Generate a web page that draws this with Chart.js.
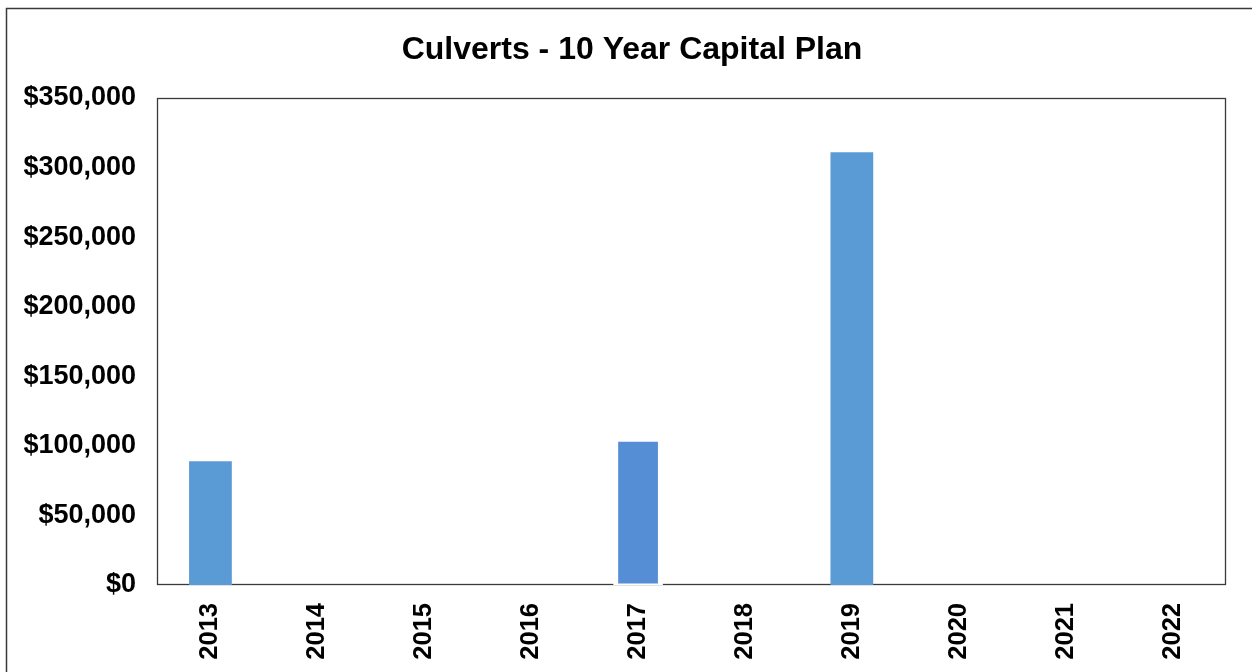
<!DOCTYPE html>
<html>
<head>
<meta charset="utf-8">
<title>Culverts - 10 Year Capital Plan</title>
<script src="https://cdn.jsdelivr.net/npm/chart.js@4.4.1/dist/chart.umd.min.js"></script>
<style>
  html, body { margin: 0; padding: 0; background: #ffffff; overflow: hidden; }
  #wrap { position: relative; width: 1252px; height: 672px; }
</style>
</head>
<body>
<div id="wrap"><canvas id="chart" width="1252" height="672"></canvas></div>
<script>
// Capital plan spending by year
const years = ['2013', '2014', '2015', '2016', '2017', '2018', '2019', '2020', '2021', '2022'];
const spending = [89000, 0, 0, 0, 104000, 0, 311000, 0, 0, 0];
const highlightedYears = ['2017'];
const yTicks = [0, 50000, 100000, 150000, 200000, 250000, 300000, 350000];

const FONT = '"Liberation Sans", Arial, Helvetica, sans-serif';
const FRAME = '#3a3a3a';

const isHighlighted = ctx => highlightedYears.includes(years[ctx.dataIndex]);

// Outer chart border and plot-area frame, drawn under the bars
const framePlugin = {
  id: 'frame',
  beforeDraw(chart) {
    const ctx = chart.ctx;
    ctx.save();
    ctx.strokeStyle = FRAME;
    ctx.lineWidth = 1.5;
    ctx.strokeRect(6.5, 8.5, 1300, 700);
    ctx.restore();
  },
  beforeDatasetsDraw(chart) {
    const { ctx, chartArea: a } = chart;
    ctx.save();
    ctx.strokeStyle = FRAME;
    ctx.lineWidth = 1.3;
    ctx.strokeRect(a.left + 0.5, a.top + 0.5, a.right - a.left - 1, a.bottom - a.top - 1);
    ctx.restore();
  }
};

new Chart(document.getElementById('chart'), {
  type: 'bar',
  data: {
    labels: years,
    datasets: [{
      label: 'Capital Plan',
      data: spending,
      backgroundColor: ctx => isHighlighted(ctx) ? '#558ed5' : '#5b9bd5',
      borderColor: '#ffffff',
      borderWidth: ctx => isHighlighted(ctx) ? 5 : 0,
      borderSkipped: ctx => isHighlighted(ctx) ? false : 'start',
      inflateAmount: ctx => isHighlighted(ctx) ? 3.5 : 0,
      barPercentage: 0.4,
      categoryPercentage: 1.0
    }]
  },
  options: {
    responsive: false,
    animation: false,
    devicePixelRatio: 1,
    layout: { padding: { left: 12, right: 0, top: 0, bottom: 0 } },
    plugins: {
      legend: { display: false },
      tooltip: { enabled: false },
      title: {
        display: true,
        text: 'Culverts - 10 Year Capital Plan',
        color: '#000000',
        font: { family: FONT, size: 32, weight: 'bold', lineHeight: 1.2 },
        padding: { top: 31, bottom: 28.6 }
      }
    },
    scales: {
      x: {
        grid: { display: false, drawTicks: false },
        border: { display: false },
        ticks: {
          color: '#000000',
          font: { family: FONT, size: 25.5, weight: 'bold' },
          minRotation: 90,
          maxRotation: 90,
          padding: 18,
          autoSkip: false
        },
        afterFit(scale) { scale.height = 87; }
      },
      y: {
        min: 0,
        max: 350000,
        grid: { display: false, drawTicks: false },
        border: { display: false },
        afterBuildTicks(scale) { scale.ticks = yTicks.map(v => ({ value: v })); },
        ticks: {
          color: '#000000',
          font: { family: FONT, size: 27, weight: 'bold' },
          padding: 21,
          callback: v => '$' + Number(v).toLocaleString('en-US')
        },
        afterFit(scale) { scale.width = 145; }
      },
      // empty right-hand gutter that keeps the plot clear of the edge
      gutter: {
        type: 'linear',
        position: 'right',
        min: 0,
        max: 350000,
        grid: { display: false, drawTicks: false },
        border: { display: false },
        ticks: { display: false },
        afterFit(scale) { scale.width = 26; }
      }
    }
  },
  plugins: [framePlugin]
});
</script>
</body>
</html>
